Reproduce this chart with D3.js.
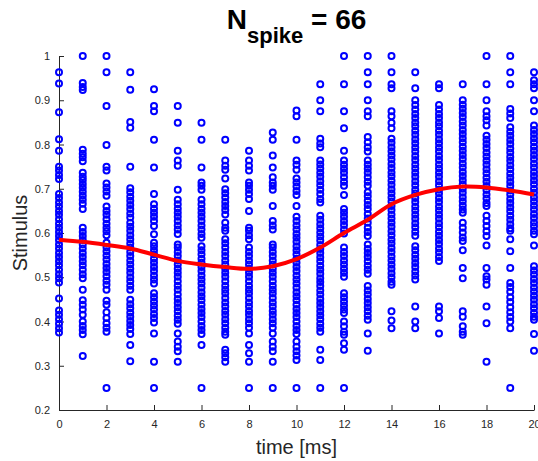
<!DOCTYPE html>
<html lang="en">
<head>
    <meta charset="UTF-8">
    <title>Spike-triggered stimulus</title>
    <script src="https://cdnjs.cloudflare.com/ajax/libs/d3/7.8.5/d3.min.js"></script>
    <style>
        body {
            margin: 0;
            padding: 0;
            background: #fff;
            font-family: "Liberation Sans", Arial, sans-serif;
        }
        svg {
            display: block;
        }
        .tick text {
            font-size: 11px;
            fill: #262626;
        }
        .axis path, .axis line {
            stroke: #262626;
            stroke-width: 1px;
        }
        .label {
            font-size: 20px;
            fill: #262626;
        }
    </style>
</head>
<body>
    <svg width="538" height="461"></svg>
    <script>
        // time lags (ms)
        const lags = [0, 1, 2, 3, 4, 5, 6, 7, 8, 9, 10, 11, 12, 13, 14, 15, 16, 17, 18, 19, 20];

        // stimulus values seen before each spike, one list per lag (distinct visible values)
        const stimLag = [
            [0.963, 0.938, 0.873, 0.812, 0.786, 0.750, 0.741, 0.731, 0.722, 0.688, 0.679, 0.669, 0.660, 0.650, 0.641, 0.631, 0.621, 0.612, 0.602, 0.593, 0.584, 0.574, 0.565, 0.555, 0.546, 0.536, 0.527, 0.517, 0.507, 0.498, 0.488, 0.452, 0.425, 0.415, 0.405, 0.395, 0.385, 0.375],
            [1.0, 0.939, 0.930, 0.923, 0.788, 0.779, 0.771, 0.762, 0.736, 0.727, 0.720, 0.711, 0.702, 0.693, 0.684, 0.675, 0.666, 0.654, 0.612, 0.602, 0.593, 0.584, 0.574, 0.565, 0.555, 0.546, 0.536, 0.527, 0.517, 0.507, 0.498, 0.472, 0.448, 0.438, 0.427, 0.415, 0.400, 0.390, 0.381, 0.371, 0.322],
            [1.0, 0.963, 0.887, 0.799, 0.750, 0.741, 0.712, 0.703, 0.694, 0.684, 0.660, 0.650, 0.641, 0.631, 0.621, 0.612, 0.604, 0.595, 0.578, 0.568, 0.559, 0.549, 0.540, 0.530, 0.521, 0.512, 0.502, 0.492, 0.483, 0.472, 0.447, 0.438, 0.421, 0.408, 0.396, 0.386, 0.377, 0.25],
            [0.963, 0.924, 0.851, 0.838, 0.750, 0.701, 0.692, 0.682, 0.673, 0.663, 0.654, 0.644, 0.635, 0.623, 0.614, 0.605, 0.595, 0.586, 0.576, 0.567, 0.557, 0.548, 0.538, 0.529, 0.519, 0.510, 0.500, 0.491, 0.481, 0.472, 0.449, 0.439, 0.430, 0.420, 0.411, 0.401, 0.392, 0.383, 0.372, 0.347, 0.310],
            [0.925, 0.887, 0.875, 0.811, 0.748, 0.688, 0.665, 0.655, 0.646, 0.637, 0.627, 0.616, 0.597, 0.578, 0.570, 0.561, 0.552, 0.542, 0.533, 0.523, 0.514, 0.504, 0.495, 0.486, 0.464, 0.455, 0.445, 0.436, 0.427, 0.417, 0.408, 0.398, 0.373, 0.309, 0.25],
            [0.887, 0.849, 0.786, 0.764, 0.752, 0.698, 0.675, 0.665, 0.655, 0.646, 0.637, 0.627, 0.617, 0.608, 0.598, 0.574, 0.567, 0.557, 0.548, 0.538, 0.529, 0.519, 0.510, 0.501, 0.491, 0.481, 0.472, 0.461, 0.451, 0.442, 0.432, 0.423, 0.413, 0.404, 0.395, 0.373, 0.355, 0.343, 0.333, 0.309],
            [0.849, 0.811, 0.748, 0.714, 0.707, 0.698, 0.675, 0.665, 0.655, 0.646, 0.637, 0.627, 0.617, 0.608, 0.598, 0.589, 0.570, 0.561, 0.552, 0.542, 0.533, 0.523, 0.514, 0.504, 0.495, 0.486, 0.476, 0.466, 0.457, 0.448, 0.438, 0.428, 0.419, 0.410, 0.400, 0.390, 0.381, 0.372, 0.347, 0.25],
            [0.811, 0.764, 0.752, 0.743, 0.723, 0.699, 0.690, 0.680, 0.670, 0.661, 0.652, 0.642, 0.623, 0.612, 0.605, 0.586, 0.577, 0.567, 0.557, 0.548, 0.538, 0.529, 0.519, 0.510, 0.501, 0.491, 0.481, 0.472, 0.463, 0.453, 0.443, 0.434, 0.424, 0.415, 0.405, 0.396, 0.386, 0.377, 0.370, 0.336, 0.328, 0.319, 0.309],
            [0.786, 0.764, 0.752, 0.741, 0.714, 0.707, 0.698, 0.688, 0.677, 0.650, 0.612, 0.605, 0.595, 0.586, 0.567, 0.557, 0.548, 0.538, 0.529, 0.519, 0.510, 0.501, 0.491, 0.481, 0.472, 0.463, 0.453, 0.443, 0.434, 0.424, 0.415, 0.405, 0.396, 0.386, 0.373, 0.347, 0.328, 0.309, 0.25],
            [0.827, 0.811, 0.775, 0.748, 0.726, 0.714, 0.707, 0.698, 0.661, 0.627, 0.617, 0.608, 0.574, 0.567, 0.557, 0.548, 0.538, 0.529, 0.519, 0.510, 0.501, 0.491, 0.481, 0.472, 0.463, 0.453, 0.443, 0.434, 0.424, 0.415, 0.405, 0.396, 0.386, 0.373, 0.355, 0.343, 0.333, 0.309, 0.25],
            [0.877, 0.864, 0.811, 0.764, 0.754, 0.743, 0.723, 0.714, 0.705, 0.695, 0.686, 0.661, 0.637, 0.627, 0.617, 0.608, 0.598, 0.589, 0.580, 0.570, 0.561, 0.552, 0.542, 0.533, 0.523, 0.514, 0.504, 0.495, 0.486, 0.476, 0.466, 0.457, 0.448, 0.438, 0.428, 0.419, 0.410, 0.400, 0.390, 0.381, 0.372, 0.355, 0.343, 0.333, 0.323, 0.313, 0.25],
            [0.936, 0.900, 0.875, 0.813, 0.802, 0.794, 0.764, 0.755, 0.746, 0.736, 0.727, 0.717, 0.708, 0.698, 0.688, 0.677, 0.669, 0.639, 0.630, 0.620, 0.611, 0.601, 0.592, 0.583, 0.573, 0.564, 0.555, 0.545, 0.536, 0.526, 0.517, 0.508, 0.498, 0.489, 0.480, 0.470, 0.461, 0.451, 0.442, 0.433, 0.423, 0.414, 0.405, 0.395, 0.386, 0.377, 0.336, 0.313, 0.25],
            [1.0, 0.936, 0.875, 0.837, 0.786, 0.764, 0.754, 0.745, 0.736, 0.726, 0.716, 0.707, 0.686, 0.654, 0.646, 0.637, 0.627, 0.618, 0.608, 0.599, 0.567, 0.557, 0.548, 0.538, 0.529, 0.519, 0.510, 0.501, 0.464, 0.455, 0.445, 0.436, 0.427, 0.419, 0.400, 0.389, 0.377, 0.370, 0.351, 0.336, 0.25],
            [1.0, 0.963, 0.936, 0.900, 0.875, 0.864, 0.817, 0.805, 0.794, 0.784, 0.764, 0.754, 0.745, 0.736, 0.726, 0.716, 0.707, 0.692, 0.683, 0.673, 0.663, 0.654, 0.643, 0.633, 0.623, 0.612, 0.602, 0.593, 0.574, 0.564, 0.555, 0.546, 0.536, 0.526, 0.517, 0.508, 0.480, 0.470, 0.461, 0.451, 0.442, 0.432, 0.423, 0.413, 0.404, 0.373, 0.334],
            [1.0, 0.963, 0.936, 0.927, 0.875, 0.864, 0.849, 0.837, 0.813, 0.804, 0.794, 0.785, 0.775, 0.766, 0.756, 0.747, 0.737, 0.728, 0.718, 0.709, 0.699, 0.690, 0.680, 0.671, 0.661, 0.652, 0.642, 0.633, 0.623, 0.614, 0.604, 0.595, 0.585, 0.576, 0.566, 0.557, 0.547, 0.538, 0.528, 0.519, 0.509, 0.500, 0.490, 0.483, 0.423, 0.402, 0.385],
            [0.963, 0.927, 0.900, 0.889, 0.879, 0.869, 0.860, 0.850, 0.841, 0.831, 0.822, 0.812, 0.803, 0.793, 0.784, 0.774, 0.765, 0.755, 0.746, 0.736, 0.727, 0.717, 0.708, 0.698, 0.689, 0.679, 0.670, 0.660, 0.651, 0.641, 0.632, 0.622, 0.613, 0.603, 0.594, 0.570, 0.561, 0.551, 0.542, 0.532, 0.523, 0.513, 0.504, 0.495, 0.434, 0.400, 0.385],
            [0.936, 0.927, 0.889, 0.879, 0.869, 0.860, 0.850, 0.841, 0.831, 0.822, 0.812, 0.803, 0.793, 0.784, 0.774, 0.765, 0.755, 0.746, 0.736, 0.727, 0.717, 0.708, 0.698, 0.689, 0.679, 0.670, 0.660, 0.651, 0.641, 0.632, 0.622, 0.613, 0.603, 0.594, 0.584, 0.575, 0.565, 0.556, 0.546, 0.537, 0.434, 0.423, 0.408, 0.373],
            [0.936, 0.900, 0.890, 0.881, 0.871, 0.862, 0.852, 0.843, 0.833, 0.824, 0.814, 0.805, 0.795, 0.786, 0.776, 0.767, 0.757, 0.748, 0.738, 0.729, 0.719, 0.710, 0.700, 0.691, 0.681, 0.672, 0.662, 0.653, 0.646, 0.623, 0.612, 0.601, 0.590, 0.582, 0.561, 0.521, 0.498, 0.423, 0.411, 0.389, 0.377, 0.370],
            [1.0, 0.936, 0.900, 0.875, 0.864, 0.855, 0.843, 0.820, 0.811, 0.801, 0.792, 0.782, 0.773, 0.763, 0.754, 0.744, 0.735, 0.725, 0.716, 0.706, 0.697, 0.687, 0.678, 0.668, 0.661, 0.639, 0.627, 0.616, 0.604, 0.593, 0.572, 0.521, 0.502, 0.495, 0.483, 0.434, 0.396, 0.309],
            [1.0, 0.963, 0.936, 0.880, 0.870, 0.860, 0.839, 0.829, 0.820, 0.810, 0.801, 0.791, 0.782, 0.772, 0.763, 0.753, 0.744, 0.734, 0.725, 0.715, 0.706, 0.696, 0.687, 0.677, 0.668, 0.658, 0.649, 0.639, 0.630, 0.620, 0.611, 0.605, 0.586, 0.559, 0.521, 0.487, 0.478, 0.467, 0.455, 0.444, 0.432, 0.421, 0.410, 0.400, 0.385, 0.25],
            [0.963, 0.945, 0.936, 0.927, 0.900, 0.875, 0.843, 0.833, 0.824, 0.814, 0.805, 0.795, 0.786, 0.776, 0.767, 0.757, 0.748, 0.738, 0.729, 0.719, 0.710, 0.700, 0.691, 0.681, 0.672, 0.662, 0.653, 0.643, 0.634, 0.624, 0.615, 0.605, 0.597, 0.572, 0.525, 0.515, 0.506, 0.496, 0.487, 0.477, 0.468, 0.458, 0.449, 0.439, 0.430, 0.420, 0.411, 0.404, 0.372, 0.334]
        ];

        // spike-triggered average (red curve)
        const staValues = [0.585, 0.580, 0.573, 0.565, 0.551, 0.537, 0.529, 0.523, 0.519, 0.525, 0.541, 0.567, 0.600, 0.630, 0.665, 0.686, 0.699, 0.705, 0.703, 0.696, 0.687];

        const xTicks = [0, 2, 4, 6, 8, 10, 12, 14, 16, 18, 20];
        const yTicks = [0.2, 0.3, 0.4, 0.5, 0.6, 0.7, 0.8, 0.9, 1];

        const margin = { top: 56, right: 4, bottom: 51, left: 59 };
        const width = 538 - margin.left - margin.right;
        const height = 461 - margin.top - margin.bottom;

        const svg = d3.select("svg");
        const g = svg.append("g")
            .attr("transform", `translate(${margin.left},${margin.top})`);

        const x = d3.scaleLinear().domain([0, 20]).range([0, width]);
        const y = d3.scaleLinear().domain([0.2, 1]).range([height, 0]);

        // axes, ticks point inward like matlab
        g.append("g")
            .attr("class", "axis")
            .attr("transform", `translate(0,${height})`)
            .call(d3.axisBottom(x).tickValues(xTicks).tickSizeInner(-5).tickSizeOuter(0).tickPadding(10).tickFormat(d3.format("d")));

        g.append("g")
            .attr("class", "axis")
            .call(d3.axisLeft(y).tickValues(yTicks).tickSizeInner(-5).tickSizeOuter(0).tickPadding(9).tickFormat(d => d === 1 ? "1" : d3.format(".1f")(d)));

        // scatter points
        const points = [];
        lags.forEach((t, i) => stimLag[i].forEach(v => points.push({ t: t, v: v })));

        g.append("g")
            .selectAll("circle")
            .data(points)
            .enter().append("circle")
            .attr("cx", d => x(d.t))
            .attr("cy", d => y(d.v))
            .attr("r", 3)
            .attr("fill", "none")
            .attr("stroke", "#0000ff")
            .attr("stroke-width", 2);

        // average line
        const line = d3.line()
            .x((d, i) => x(lags[i]))
            .y(d => y(d))
            .curve(d3.curveCatmullRom);

        g.append("path")
            .datum(staValues)
            .attr("d", line)
            .attr("fill", "none")
            .attr("stroke", "#ff0000")
            .attr("stroke-width", 4)
            .attr("stroke-linejoin", "round");

        // labels
        svg.append("text")
            .attr("class", "label")
            .attr("x", margin.left + width / 2)
            .attr("y", 454)
            .attr("text-anchor", "middle")
            .text("time [ms]");

        svg.append("text")
            .attr("class", "label")
            .attr("transform", `translate(27,${margin.top + height / 2}) rotate(-90)`)
            .attr("text-anchor", "middle")
            .text("Stimulus");

        const title = svg.append("text")
            .attr("x", margin.left + width / 2)
            .attr("y", 29)
            .attr("text-anchor", "middle")
            .attr("font-weight", "bold")
            .attr("font-size", "28px")
            .attr("fill", "#000");
        title.append("tspan").text("N");
        title.append("tspan").attr("dy", 14).attr("font-size", "22px").text("spike");
        title.append("tspan").attr("dy", -14).text(" = 66");
    </script>
</body>
</html>
